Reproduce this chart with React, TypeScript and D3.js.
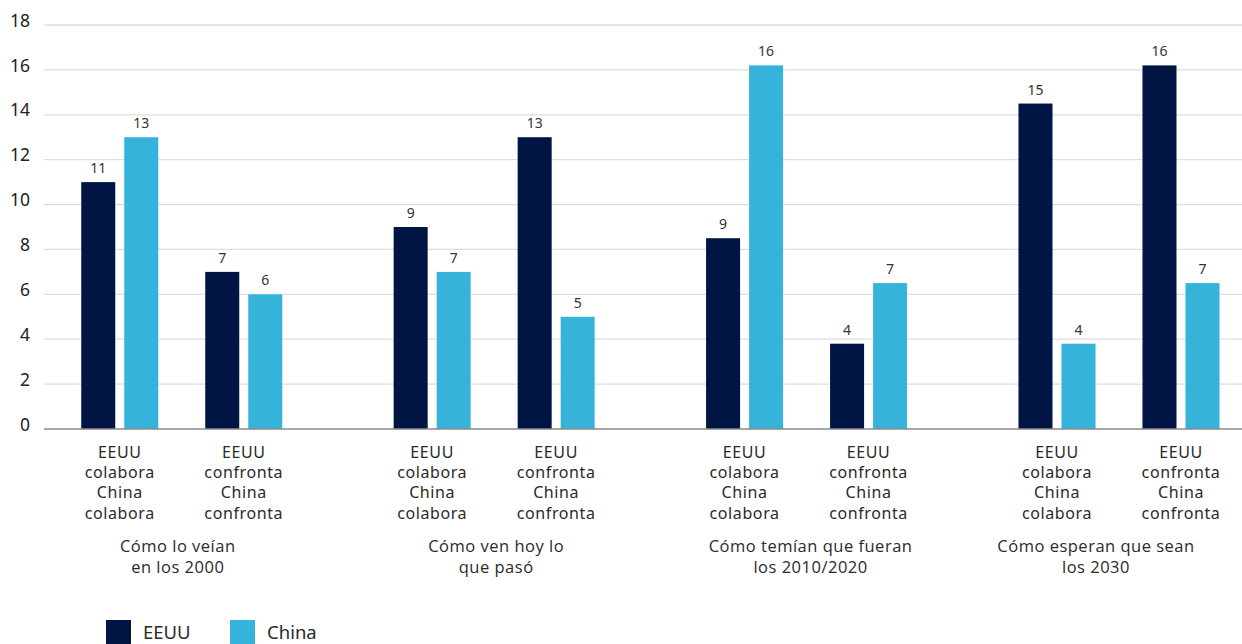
import React from "react";
import * as d3 from "d3";

const groups = [
  ["Cómo lo veían", "en los 2000"],
  ["Cómo ven hoy lo", "que pasó"],
  ["Cómo temían que fueran", "los 2010/2020"],
  ["Cómo esperan que sean", "los 2030"],
];
const subLabelsColabora = ["EEUU", "colabora", "China", "colabora"];
const subLabelsConfronta = ["EEUU", "confronta", "China", "confronta"];
const series = ["EEUU", "China"];
const eeuuValues = [11, 7, 9, 13, 8.5, 3.8, 14.5, 16.2];
const chinaValues = [13, 6, 7, 5, 16.2, 6.5, 3.8, 6.5];
const yTicks = [0, 2, 4, 6, 8, 10, 12, 14, 16, 18];

const W = 1242;
const H = 644;
const colors: Record<string, string> = { EEUU: "#001543", China: "#35b3db" };

export default function App() {
  const y = d3.scaleLinear().domain([0, 18]).range([429, 25]);
  const gx = d3
    .scalePoint<number>()
    .domain(groups.map((_, i) => i))
    .range([181.75, 1119]);
  const sx = d3.scaleBand<number>().domain([0, 1]).range([0, 248]);
  const bx = d3
    .scaleBand<string>()
    .domain(series)
    .range([0, 124])
    .paddingInner(9 / 43)
    .paddingOuter(0.546);

  const subCenter = (g: number, s: number) =>
    (gx(g) as number) - 124 + (sx(s) as number) + sx.bandwidth() / 2;

  const bars: { key: string; x: number; v: number; s: string }[] = [];
  for (let g = 0; g < groups.length; g++) {
    for (let s = 0; s < 2; s++) {
      const idx = g * 2 + s;
      const left = subCenter(g, s) - 62;
      series.forEach((name) => {
        const v = name === "EEUU" ? eeuuValues[idx] : chinaValues[idx];
        bars.push({ key: `${g}-${s}-${name}`, x: left + (bx(name) as number), v, s: name });
      });
    }
  }

  const font = "'Noto Sans', 'Open Sans', sans-serif";
  const groupShift = [-4, 2, 4, -23];

  return (
    <svg
      width={W}
      height={H}
      style={{ position: "absolute", left: 0, top: 0, background: "#fff" }}
      fontFamily={font}
    >
      {yTicks.map((t) =>
        t === 0 ? null : (
          <line key={"g" + t} x1={44} x2={W} y1={y(t)} y2={y(t)} stroke="#dedede" strokeWidth={1.3} />
        )
      )}
      {yTicks.map((t) => (
        <text key={"t" + t} x={30} y={y(t) - 3} textAnchor="end" dominantBaseline="middle" fontSize={17.5} fill="#222">
          {t}
        </text>
      ))}
      {bars.map((b) => (
        <rect key={b.key} x={b.x} y={y(b.v)} width={bx.bandwidth()} height={y(0) - y(b.v)} fill={colors[b.s]} />
      ))}
      {bars.map((b) => (
        <text
          key={"l" + b.key}
          x={b.x + bx.bandwidth() / 2}
          y={y(b.v) - 9}
          textAnchor="middle"
          fontSize={14}
          fill="#333"
        >
          {Math.round(b.v)}
        </text>
      ))}
      <line x1={44} x2={W} y1={y(0)} y2={y(0)} stroke="#8a8a8a" strokeWidth={1.5} />
      {groups.map((_, g) =>
        [0, 1].map((s) => {
          const lines = s === 0 ? subLabelsColabora : subLabelsConfronta;
          return (
            <text key={`sl${g}${s}`} textAnchor="middle" fontSize={16} letterSpacing={0.6} fill="#2a2a2a">
              {lines.map((ln, i) => (
                <tspan key={i} x={subCenter(g, s)} y={458 + i * 20.2}>
                  {ln}
                </tspan>
              ))}
            </text>
          );
        })
      )}
      {groups.map((lines, g) => (
        <text
          key={"gl" + g}
          textAnchor="middle"
          fontSize={16.5}
          letterSpacing={0.5}
          fill="#2a2a2a"
          fontFamily="'Open Sans', sans-serif"
        >
          {lines.map((ln, i) => (
            <tspan key={i} x={(gx(g) as number) + groupShift[g]} y={552 + i * 21}>
              {ln}
            </tspan>
          ))}
        </text>
      ))}
      {series.map((name, i) => (
        <g key={"lg" + name} transform={`translate(${106 + i * 124},620)`}>
          <rect x={0} y={0} width={25} height={25} fill={colors[name]} />
          <text x={37} y={19} fontSize={18.5} fill="#2a2a2a">
            {name}
          </text>
        </g>
      ))}
    </svg>
  );
}
